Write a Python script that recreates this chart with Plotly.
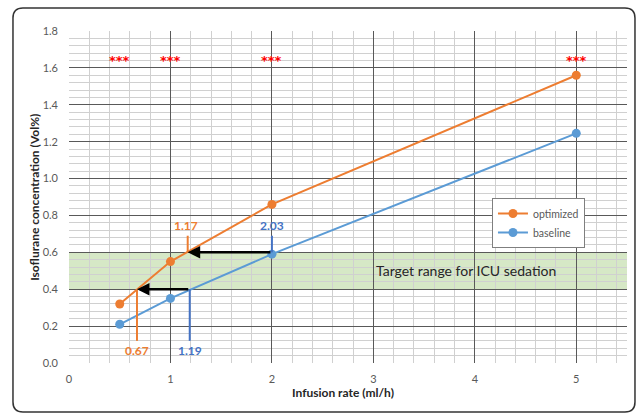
import plotly.graph_objects as go

# ---- data ----
infusion_rate = [0.5, 1, 2, 5]
optimized = [0.32, 0.55, 0.86, 1.56]
baseline = [0.21, 0.35, 0.59, 1.245]
signif_x = [0.5, 1, 2, 5]
signif_label = "***"
target_low, target_high = 0.4, 0.6
# crossing points of target limits
opt_cross = [0.67, 1.17]      # optimized reaches 0.4 / 0.6
base_cross = [1.19, 2.0]      # baseline reaches 0.4 / 0.6
opt_labels = ["0.67", "1.17"]
base_labels = ["1.19", "2.03"]
x_ticks = [0, 1, 2, 3, 4, 5]
y_ticks = [0.0, 0.2, 0.4, 0.6, 0.8, 1.0, 1.2, 1.4, 1.6, 1.8]

ORANGE = "#ED7D31"
BLUE = "#5B9BD5"
DBLUE = "#4472C4"
FONT = "Lato, 'Open Sans', sans-serif"

fig = go.Figure()
fig.add_trace(go.Scatter(x=infusion_rate, y=optimized, mode="lines+markers", name="optimized",
                         line=dict(color=ORANGE, width=2), marker=dict(size=9, color=ORANGE)))
fig.add_trace(go.Scatter(x=infusion_rate, y=baseline, mode="lines+markers", name="baseline",
                         line=dict(color=BLUE, width=2), marker=dict(size=9, color=BLUE)))

shapes = []
# target band
shapes.append(dict(type="rect", xref="paper", yref="y", x0=0, x1=1, y0=target_low, y1=target_high,
                   fillcolor="#d6e8c6", line=dict(width=0), layer="below"))
# vertical marker lines
shapes.append(dict(type="line", xref="x", yref="y", x0=opt_cross[0], x1=opt_cross[0], y0=target_low, y1=0.12,
                   line=dict(color=ORANGE, width=2)))
shapes.append(dict(type="line", xref="x", yref="y", x0=base_cross[0], x1=base_cross[0], y0=target_low, y1=0.12,
                   line=dict(color=DBLUE, width=2)))
shapes.append(dict(type="line", xref="x", yref="y", x0=opt_cross[1], x1=opt_cross[1], y0=target_high, y1=0.69,
                   line=dict(color=ORANGE, width=2)))
shapes.append(dict(type="line", xref="x", yref="y", x0=base_cross[1], x1=base_cross[1], y0=target_high, y1=0.69,
                   line=dict(color=DBLUE, width=2)))
# outer rounded frame (paper coords)
x0, x1, y0, y1 = -0.1004, 1.0143, -0.1476, 1.0693
rx, ry = 0.0179, 0.0301
path = (f"M {x0+rx},{y1} L {x1-rx},{y1} Q {x1},{y1} {x1},{y1-ry} L {x1},{y0+ry} "
        f"Q {x1},{y0} {x1-rx},{y0} L {x0+rx},{y0} Q {x0},{y0} {x0},{y0+ry} L {x0},{y1-ry} "
        f"Q {x0},{y1} {x0+rx},{y1} Z")
shapes.append(dict(type="path", xref="paper", yref="paper", path=path, line=dict(color="#333333", width=1.5),
                   fillcolor="rgba(0,0,0,0)", layer="above"))

ann = []
# arrows
ann.append(dict(x=opt_cross[0], y=target_low, ax=base_cross[0], ay=target_low, xref="x", yref="y",
                axref="x", ayref="y", showarrow=True, arrowhead=2, arrowsize=1, arrowwidth=2.5,
                arrowcolor="black", text=""))
ann.append(dict(x=opt_cross[1], y=target_high, ax=base_cross[1], ay=target_high, xref="x", yref="y",
                axref="x", ayref="y", showarrow=True, arrowhead=2, arrowsize=1, arrowwidth=2.5,
                arrowcolor="black", text=""))
# labels
ann.append(dict(x=opt_cross[0], y=0.07, text=f"<b>{opt_labels[0]}</b>", showarrow=False,
                font=dict(color=ORANGE, size=12, family=FONT)))
ann.append(dict(x=base_cross[0], y=0.07, text=f"<b>{base_labels[0]}</b>", showarrow=False,
                font=dict(color=DBLUE, size=12, family=FONT)))
ann.append(dict(x=opt_cross[1] - 0.02, y=0.745, text=f"<b>{opt_labels[1]}</b>", showarrow=False,
                font=dict(color=ORANGE, size=12, family=FONT)))
ann.append(dict(x=base_cross[1], y=0.745, text=f"<b>{base_labels[1]}</b>", showarrow=False,
                font=dict(color=DBLUE, size=12, family=FONT)))
# significance stars
for sx in signif_x:
    ann.append(dict(x=sx, y=1.64, text=f"<b>{signif_label}</b>", showarrow=False, yanchor="middle",
                    font=dict(color="#FF0000", size=13, family="DejaVu Sans")))
# target range text
ann.append(dict(x=3.91, y=0.5, text="Target range for ICU sedation", showarrow=False,
                font=dict(color="#262626", size=14, family=FONT)))
# axis titles
ann.append(dict(xref="paper", yref="paper", x=-0.063, y=0.5, xanchor="center", yanchor="middle",
                text="<b>Isoflurane concentration (Vol%)</b>",
                textangle=-90, showarrow=False, font=dict(color="#262626", size=12, family=FONT)))
ann.append(dict(xref="paper", yref="paper", x=0.491, y=-0.09, xanchor="center", yanchor="middle",
                text="<b>Infusion rate (ml/h)</b>",
                showarrow=False, font=dict(color="#262626", size=12, family=FONT)))

fig.update_layout(
    width=637, height=415,
    margin=dict(l=69, r=10, t=31, b=52, autoexpand=False),
    paper_bgcolor="white", plot_bgcolor="white",
    font=dict(family=FONT, size=11, color="#595959"),
    shapes=shapes, annotations=ann,
    showlegend=True,
    legend=dict(x=0.758, y=0.497, xanchor="left", yanchor="top", bordercolor="#7f7f7f", borderwidth=1,
                bgcolor="white", font=dict(size=10.5, color="#595959"), itemwidth=30,
                tracegroupgap=0),
    xaxis=dict(range=[0, 5.5], tickvals=x_ticks, showgrid=True, gridcolor="#595959", gridwidth=1,
               minor=dict(dtick=0.2, showgrid=True, gridcolor="#d0d0d0", gridwidth=1),
               zeroline=False, showline=False, ticks="", ticklabelstandoff=8, automargin=False,
               tickfont=dict(size=11, color="#595959")),
    yaxis=dict(range=[0, 1.8], tickvals=y_ticks, tickformat=".1f", showgrid=True, gridcolor="#595959",
               gridwidth=1, minor=dict(dtick=0.04, showgrid=True, gridcolor="#d0d0d0", gridwidth=1),
               zeroline=False, showline=False, ticks="", ticklabelstandoff=10, automargin=False,
               tickfont=dict(size=11, color="#595959")),
)

fig.write_html("out.html", config={"displayModeBar": False},
               post_script="document.body.style.margin='0';")
